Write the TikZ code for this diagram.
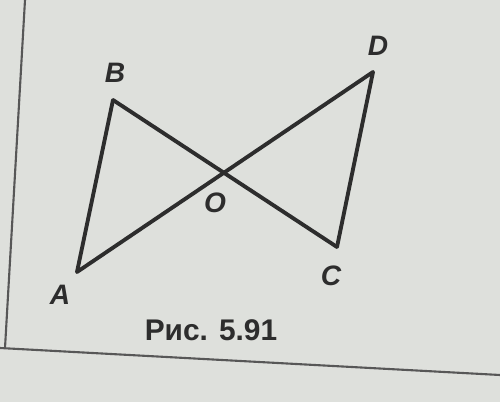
\documentclass[tikz,border=0pt]{standalone}
\usepackage{fontspec}
\setmainfont{Liberation Sans}
\definecolor{paper}{RGB}{222,224,220}
\definecolor{ink}{RGB}{45,45,45}
\begin{document}
\begin{tikzpicture}[x=0.02cm, y=-0.02cm, line width=2.2pt, draw=ink,
    lbl/.style={font=\fontsize{16}{16}\selectfont\itshape\bfseries, text=ink, inner sep=0pt}]

    % paper
    \fill[paper] (0,0) rectangle (500,402);
    \useasboundingbox (0,0) rectangle (500,402);
    \draw[line width=1.2pt, ink!80] (25,0) -- (5,348);
    \draw[line width=1.2pt, ink!80] (0,348) -- (500,375);

    % draw points
    \foreach \x/\y/\t in {77/272/A, 113/100/B, 337/247/C, 373/72/D, 224/172/O}
        \coordinate (v\t) at (\x, \y);

    % draw labels
    \foreach \x/\y/\t in {60/295/A, 115/73/B, 331/276/C, 378/46/D, 215/203/O}
        \node [lbl] (l\t) at (\x, \y) {\t};

    % draw edges
    \foreach \i/\j in {A/B, B/C, C/D, D/A}
        \draw[line join=round, line cap=round] (v\i) -- (v\j);

    \node [font=\fontsize{17}{17}\selectfont\bfseries, text=ink] (cap) at (211,330) {Рис. 5.91};

\end{tikzpicture}
\end{document}
